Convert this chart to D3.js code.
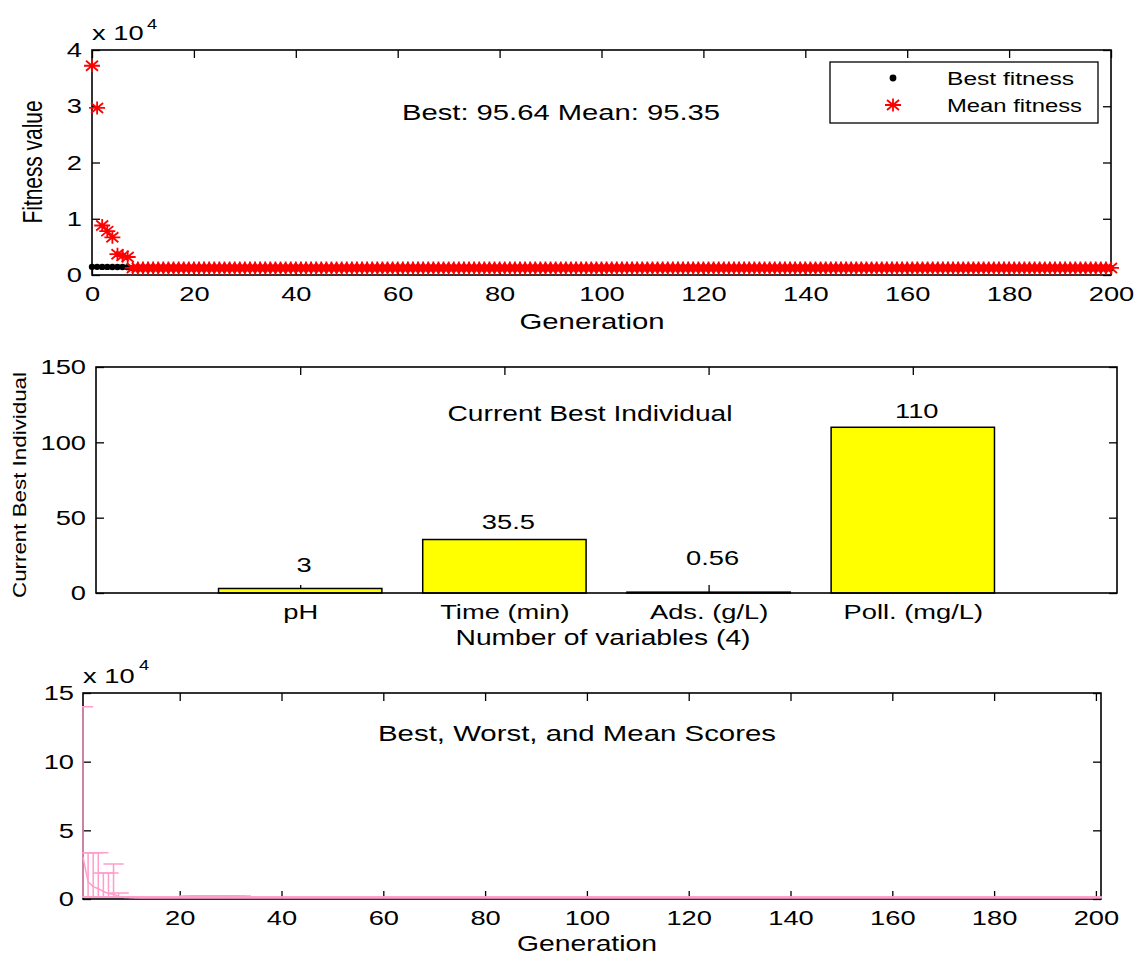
<!DOCTYPE html>
<html>
<head>
<meta charset="utf-8">
<script src="https://cdn.jsdelivr.net/npm/d3@7"></script>
<style>
  body { margin: 0; background: #fff; }
  svg { display: block; }
  text { font-family: "Liberation Sans", Arial, sans-serif; fill: #000; }
</style>
</head>
<body>
<svg id="fig" width="1135" height="955"></svg>
<script>
// ---------- data: fitness per generation (gen 0..200) ----------
const bestFitness = [
  1450, 1450, 1440, 1440, 1430, 1420, 1420, 1400,
  1200,1200,1200,1200,1200,1200,1200,1200,1200,1200,1200,1200,1200,1200,1200,1200,1200,1200,1200,1200,
  1200,1200,1200,1200,1200,1200,1200,1200,1200,1200,1200,1200,1200,1200,1200,1200,1200,1200,1200,1200,
  1200,1200,1200,1200,1200,1200,1200,1200,1200,1200,1200,1200,1200,1200,1200,1200,1200,1200,1200,1200,
  1200,1200,1200,1200,1200,1200,1200,1200,1200,1200,1200,1200,1200,1200,1200,1200,1200,1200,1200,1200,
  1200,1200,1200,1200,1200,1200,1200,1200,1200,1200,1200,1200,1200,1200,1200,1200,1200,1200,1200,1200,
  1200,1200,1200,1200,1200,1200,1200,1200,1200,1200,1200,1200,1200,1200,1200,1200,1200,1200,1200,1200,
  1200,1200,1200,1200,1200,1200,1200,1200,1200,1200,1200,1200,1200,1200,1200,1200,1200,1200,1200,1200,
  1200,1200,1200,1200,1200,1200,1200,1200,1200,1200,1200,1200,1200,1200,1200,1200,1200,1200,1200,1200,
  1200,1200,1200,1200,1200,1200,1200,1200,1200,1200,1200,1200,1200,1200,1200,1200,1200,1200,1200,1200,
  1200,1200,1200,1200,1200,1200,1200,1200,1200,1200,1200,1200,1200
];
const meanFitness = [
  37200, 29700, 8800, 7800, 6700, 3700, 3400, 3200,
  1250,1250,1250,1250,1250,1250,1250,1250,1250,1250,1250,1250,1250,1250,1250,1250,1250,1250,1250,1250,
  1250,1250,1250,1250,1250,1250,1250,1250,1250,1250,1250,1250,1250,1250,1250,1250,1250,1250,1250,1250,
  1250,1250,1250,1250,1250,1250,1250,1250,1250,1250,1250,1250,1250,1250,1250,1250,1250,1250,1250,1250,
  1250,1250,1250,1250,1250,1250,1250,1250,1250,1250,1250,1250,1250,1250,1250,1250,1250,1250,1250,1250,
  1250,1250,1250,1250,1250,1250,1250,1250,1250,1250,1250,1250,1250,1250,1250,1250,1250,1250,1250,1250,
  1250,1250,1250,1250,1250,1250,1250,1250,1250,1250,1250,1250,1250,1250,1250,1250,1250,1250,1250,1250,
  1250,1250,1250,1250,1250,1250,1250,1250,1250,1250,1250,1250,1250,1250,1250,1250,1250,1250,1250,1250,
  1250,1250,1250,1250,1250,1250,1250,1250,1250,1250,1250,1250,1250,1250,1250,1250,1250,1250,1250,1250,
  1250,1250,1250,1250,1250,1250,1250,1250,1250,1250,1250,1250,1250,1250,1250,1250,1250,1250,1250,1250,
  1250,1250,1250,1250,1250,1250,1250,1250,1250,1250,1250,1250,1250
];
const fitnessStatus = "Best: 95.64 Mean: 95.35";

// ---------- data: current best individual ----------
const variableNames = ["pH", "Time (min)", "Ads. (g/L)", "Poll. (mg/L)"];
const bestIndividual = [3, 35.5, 0.56, 110];
const bestIndividualLabels = ["3", "35.5", "0.56", "110"];

// ---------- data: population score range per generation (gen 1..201) ----------
const worstScore = [
  140000, 33700, 33700, 33700, 19000, 19000, 25500, 4400, 1700, 1400,
  1200,1200,1200,1200,1200,1200,1200,1200,1200,1200,1200,
  2200,2200,2200,2200,2200,2200,2200,2200,2200,2200,2200,
  1200,1200,1200,1200,1200,1200,1200,1200,1200,1200,1200,1200,1200,1200,1200,1200,1200,1200,1200,1200,
  1200,1200,1200,1200,1200,1200,1200,1200,1200,1200,1200,1200,1200,1200,1200,1200,1200,1200,1200,1200,
  1200,1200,1200,1200,1200,1200,1200,1200,1200,1200,1200,1200,1200,1200,1200,1200,1200,1200,1200,1200,
  1200,1200,1200,1200,1200,1200,1200,1200,1200,1200,1200,1200,1200,1200,1200,1200,1200,1200,1200,1200,
  1200,1200,1200,1200,1200,1200,1200,1200,1200,1200,1200,1200,1200,1200,1200,1200,1200,1200,1200,1200,
  1200,1200,1200,1200,1200,1200,1200,1200,1200,1200,1200,1200,1200,1200,1200,1200,1200,1200,1200,1200,
  1200,1200,1200,1200,1200,1200,1200,1200,1200,1200,1200,1200,1200,1200,1200,1200,1200,1200,1200,1200,
  1200,1200,1200,1200,1200,1200,1200,1200,1200,1200,1200,1200,1200,1200,1200,1200,1200,1200,1200,1200,
  1200,1200,1200,1200,1200,1200,1200,1200,1200
];
const meanScore = [
  30500, 12500, 9000, 7500, 5500, 4000, 3500, 1800, 1400, 1250,
  1150,1150,1150,1150,1150,1150,1150,1150,1150,1150,1150,1150,1150,1150,1150,1150,1150,1150,1150,1150,
  1150,1150,1150,1150,1150,1150,1150,1150,1150,1150,1150,1150,1150,1150,1150,1150,1150,1150,1150,1150,
  1150,1150,1150,1150,1150,1150,1150,1150,1150,1150,1150,1150,1150,1150,1150,1150,1150,1150,1150,1150,
  1150,1150,1150,1150,1150,1150,1150,1150,1150,1150,1150,1150,1150,1150,1150,1150,1150,1150,1150,1150,
  1150,1150,1150,1150,1150,1150,1150,1150,1150,1150,1150,1150,1150,1150,1150,1150,1150,1150,1150,1150,
  1150,1150,1150,1150,1150,1150,1150,1150,1150,1150,1150,1150,1150,1150,1150,1150,1150,1150,1150,1150,
  1150,1150,1150,1150,1150,1150,1150,1150,1150,1150,1150,1150,1150,1150,1150,1150,1150,1150,1150,1150,
  1150,1150,1150,1150,1150,1150,1150,1150,1150,1150,1150,1150,1150,1150,1150,1150,1150,1150,1150,1150,
  1150,1150,1150,1150,1150,1150,1150,1150,1150,1150,1150,1150,1150,1150,1150,1150,1150,1150,1150,1150,
  1150,1150,1150,1150,1150,1150,1150,1150,1150,1150,1150
];
const bestScore = [
  1500, 1450, 1450, 1440, 1430, 1420, 1420, 1400, 1300, 1200,
  1100,1100,1100,1100,1100,1100,1100,1100,1100,1100,1100,1100,1100,1100,1100,1100,1100,1100,1100,1100,
  1100,1100,1100,1100,1100,1100,1100,1100,1100,1100,1100,1100,1100,1100,1100,1100,1100,1100,1100,1100,
  1100,1100,1100,1100,1100,1100,1100,1100,1100,1100,1100,1100,1100,1100,1100,1100,1100,1100,1100,1100,
  1100,1100,1100,1100,1100,1100,1100,1100,1100,1100,1100,1100,1100,1100,1100,1100,1100,1100,1100,1100,
  1100,1100,1100,1100,1100,1100,1100,1100,1100,1100,1100,1100,1100,1100,1100,1100,1100,1100,1100,1100,
  1100,1100,1100,1100,1100,1100,1100,1100,1100,1100,1100,1100,1100,1100,1100,1100,1100,1100,1100,1100,
  1100,1100,1100,1100,1100,1100,1100,1100,1100,1100,1100,1100,1100,1100,1100,1100,1100,1100,1100,1100,
  1100,1100,1100,1100,1100,1100,1100,1100,1100,1100,1100,1100,1100,1100,1100,1100,1100,1100,1100,1100,
  1100,1100,1100,1100,1100,1100,1100,1100,1100,1100,1100,1100,1100,1100,1100,1100,1100,1100,1100,1100,
  1100,1100,1100,1100,1100,1100,1100,1100,1100,1100,1100
];

// ---------- tick values ----------
const generationTicks = [0, 20, 40, 60, 80, 100, 120, 140, 160, 180, 200];
const fitnessTicks = [0, 10000, 20000, 30000, 40000];
const individualTicks = [0, 50, 100, 150];
const scoreTicks = [0, 50000, 100000, 150000];
const scoreGenerationTicks = [20, 40, 60, 80, 100, 120, 140, 160, 180, 200];

// ---------- styling ----------
const SX = 1.3;            // horizontal glyph stretch used by all text
const TICK_FONT = 21;
const TICK_LEN = 8;
const PINK = "#ff9dcb";

const svg = d3.select("#fig");
svg.append("rect").attr("width", 1135).attr("height", 955).attr("fill", "#fff");

function label(parent, str, x, y, o = {}) {
  const size = o.size || 21, anchor = o.anchor || "start";
  const t = parent.append("text").text(str)
    .attr("font-size", size).attr("text-anchor", anchor);
  if (o.len) t.attr("textLength", o.len).attr("lengthAdjust", "spacingAndGlyphs");
  if (o.rotate) {
    t.attr("transform", `translate(${x},${y}) rotate(-90) scale(1,${SX})`);
  } else {
    t.attr("transform", `translate(${x},${y}) scale(${o.len ? 1 : SX},1)`);
  }
  return t;
}

function styleAxis(g, labelled) {
  g.select(".domain").remove();
  g.selectAll(".tick line").attr("stroke", "#000").attr("stroke-width", 1.3);
  g.attr("font-family", null).attr("font-size", null);
  g.selectAll(".tick text")
    .attr("font-size", TICK_FONT)
    .attr("fill", "#000")
    .attr("transform", labelled ? `scale(${SX},1)` : null);
}

function axes(g, x, y, w, h, xt, yt, xf, yf, padX, padY) {
  g.append("g").attr("transform", `translate(0,${h})`)
    .call(d3.axisBottom(x).tickValues(xt).tickFormat(xf).tickSize(-TICK_LEN).tickPadding(padX))
    .call(s => styleAxis(s, true));
  g.append("g")
    .call(d3.axisTop(x).tickValues(xt).tickFormat("").tickSize(-TICK_LEN))
    .call(s => styleAxis(s, false));
  g.append("g")
    .call(d3.axisLeft(y).tickValues(yt).tickFormat(yf).tickSize(-TICK_LEN).tickPadding(padY))
    .call(s => styleAxis(s, true));
  g.append("g").attr("transform", `translate(${w},0)`)
    .call(d3.axisRight(y).tickValues(yt).tickFormat("").tickSize(-TICK_LEN))
    .call(s => styleAxis(s, false));
}

function frame(g, w, h) {
  g.append("rect").attr("width", w).attr("height", h)
    .attr("fill", "none").attr("stroke", "#000").attr("stroke-width", 1.6);
}

// ================= Panel 1: fitness value vs generation =================
{
  const L = 92, T = 50, w = 1019, h = 225;
  const g = svg.append("g").attr("transform", `translate(${L},${T})`);
  const x = d3.scaleLinear().domain([0, 200]).range([0, w]);
  const y = d3.scaleLinear().domain([0, 40000]).range([h, 0]);

  axes(g, x, y, w, h, generationTicks, fitnessTicks, d3.format("d"), d => d / 10000, 11, 10 / SX);
  frame(g, w, h);

  const gens = bestFitness.map((_, i) => i);
  // best fitness: black dots
  g.append("g").selectAll("circle").data(gens).join("circle")
    .attr("cx", i => x(i)).attr("cy", i => y(bestFitness[i])).attr("r", 3.2).attr("fill", "#000");
  // mean fitness: red asterisks
  const star = "M-8,0H8M0,-6.5V6.5M-6,-5L6,5M-6,5L6,-5";
  g.append("g").selectAll("path").data(gens).join("path")
    .attr("d", star)
    .attr("transform", i => `translate(${x(i)},${y(meanFitness[i])})`)
    .attr("stroke", "#ff0000").attr("stroke-width", 1.8).attr("fill", "none");

  // exponent note
  label(svg, "x 10", 92, 40);
  label(svg, "4", 147, 29, { size: 14 });
  // axis labels
  label(svg, "Fitness value", 42, 162, { rotate: true, anchor: "middle", len: 123 });
  label(svg, "Generation", 592, 329, { anchor: "middle", len: 145, size: 22 });
  label(svg, fitnessStatus, 561, 120, { anchor: "middle", len: 318, size: 22 });

  // legend
  const lg = svg.append("g");
  lg.append("rect").attr("x", 830).attr("y", 62).attr("width", 268).attr("height", 61)
    .attr("fill", "#fff").attr("stroke", "#000").attr("stroke-width", 1.3);
  lg.append("circle").attr("cx", 893).attr("cy", 78).attr("r", 3.4).attr("fill", "#000");
  lg.append("path").attr("d", star).attr("transform", "translate(893,105)")
    .attr("stroke", "#ff0000").attr("stroke-width", 1.8).attr("fill", "none");
  label(lg, "Best fitness", 947, 85, { size: 18, len: 127 });
  label(lg, "Mean fitness", 947, 112, { size: 18, len: 135 });
}

// ================= Panel 2: current best individual =================
{
  const L = 96, T = 367, w = 1021, h = 226;
  const g = svg.append("g").attr("transform", `translate(${L},${T})`);
  const x = d3.scaleLinear().domain([0, 5]).range([0, w]);
  const y = d3.scaleLinear().domain([0, 150]).range([h, 0]);
  const barW = x(0.8) - x(0);

  axes(g, x, y, w, h, [1, 2, 3, 4], individualTicks, i => variableNames[i - 1], d3.format("d"), 11, 10 / SX);

  g.append("g").selectAll("rect").data(bestIndividual).join("rect")
    .attr("x", (d, i) => x(i + 1) - barW / 2)
    .attr("y", d => y(d))
    .attr("width", barW)
    .attr("height", d => y(0) - y(d))
    .attr("fill", "#ffff00").attr("stroke", "#000").attr("stroke-width", 1.5);

  frame(g, w, h);

  const lift = [16, 11, 27, 9];
  g.append("g").selectAll("text").data(bestIndividual).join("text")
    .text((d, i) => bestIndividualLabels[i])
    .attr("font-size", 21).attr("text-anchor", "middle")
    .attr("transform", (d, i) => `translate(${x(i + 1) + 4},${y(d) - lift[i]}) scale(${SX},1)`);

  label(svg, "Current Best Individual", 590, 421, { anchor: "middle", len: 285, size: 22 });
  label(svg, "Current Best Individual", 26, 485, { rotate: true, anchor: "middle", len: 226, size: 14 });
  label(svg, "Number of variables (4)", 603, 645, { anchor: "middle", len: 295, size: 22 });
}

// ================= Panel 3: best, worst and mean scores =================
{
  const L = 83, T = 693, w = 1018, h = 206;
  const g = svg.append("g").attr("transform", `translate(${L},${T})`);
  const x = d3.scaleLinear().domain([1, 201]).range([0, w]);
  const y = d3.scaleLinear().domain([0, 150000]).range([h, 0]);

  axes(g, x, y, w, h, scoreGenerationTicks, scoreTicks, d3.format("d"), d => d / 10000, 11, 9 / SX);
  frame(g, w, h);

  svg.append("clipPath").attr("id", "scoreClip")
    .append("rect").attr("x", -1).attr("y", -1).attr("width", w + 2).attr("height", h + 2);
  const eb = g.append("g").attr("clip-path", "url(#scoreClip)")
    .attr("stroke", PINK).attr("stroke-width", 1.5).attr("fill", "none");

  const gens = worstScore.map((_, i) => i + 1);
  const capHalf = 2;
  eb.append("path").attr("d", d3.line().x(gi => x(gi)).y(gi => y(meanScore[gi - 1]))(gens));
  eb.selectAll("path.bar").data(gens).join("path").attr("class", "bar")
    .attr("d", gi => {
      const lo = y(bestScore[gi - 1]), hi = y(worstScore[gi - 1]);
      const xm = x(gi), xl = x(gi - capHalf), xr = x(gi + capHalf);
      return `M${xm},${lo}V${hi}M${xl},${hi}H${xr}M${xl},${lo}H${xr}`;
    });

  label(svg, "x 10", 83, 683);
  label(svg, "4", 139, 670, { size: 14 });
  label(svg, "Best, Worst, and Mean Scores", 577, 741, { anchor: "middle", len: 398, size: 22 });
  label(svg, "Generation", 587, 951, { anchor: "middle", len: 140, size: 22 });
}
</script>
</body>
</html>
